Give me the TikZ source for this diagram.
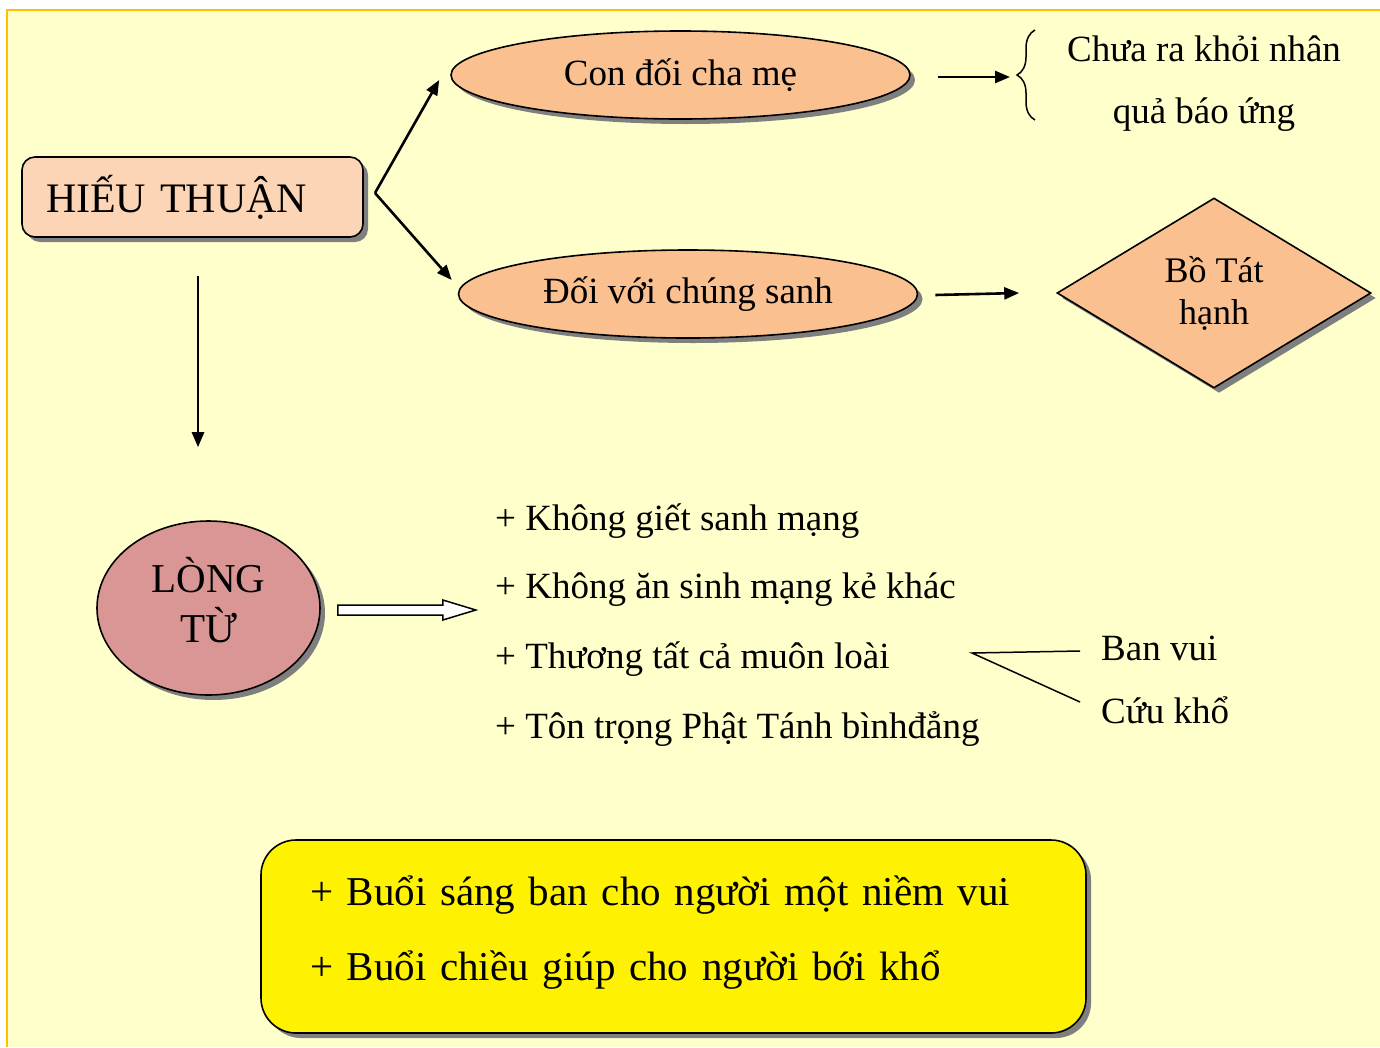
\documentclass[tikz,border=0pt]{standalone}
\usepackage{fontspec}
\setmainfont{Liberation Serif}
\usetikzlibrary{arrows.meta,positioning,calc,shapes.geometric,shadows,decorations.pathreplacing}

\definecolor{bgyellow}{HTML}{FFFFCC}
\definecolor{framegold}{HTML}{FFC000}
\definecolor{peachlight}{HTML}{FBD5B5}
\definecolor{peach}{HTML}{FAC090}
\definecolor{rosy}{HTML}{D99694}
\definecolor{shadowgray}{HTML}{7F7F7F}

\begin{document}
\begin{tikzpicture}[x=1pt,y=-1pt,>={Triangle[length=15pt,width=12pt]},
  shade/.style={drop shadow={shadow xshift=5pt,shadow yshift=-5pt,fill=shadowgray,opacity=1}},
  titlebox/.style={draw,line width=1.6pt,rounded corners=13pt,fill=peachlight,shade,text width=293pt,inner xsep=24pt,minimum height=80pt,align=left,font=\fontsize{42}{48}\selectfont},
  oval/.style={ellipse,draw,line width=1.6pt,fill=peach,shade,minimum width=459pt,minimum height=88pt,inner sep=0pt,font=\fontsize{37}{44}\selectfont},
  gem/.style={diamond,draw,line width=1.6pt,fill=peach,shade,minimum width=314pt,minimum height=190pt,inner sep=0pt,align=center,font=\fontsize{36}{42}\selectfont},
  heart/.style={ellipse,draw,line width=1.6pt,fill=rosy,shade,minimum width=223pt,minimum height=174pt,inner sep=0pt,align=center,text depth=17pt,font=\fontsize{41}{50}\selectfont},
  item/.style={anchor=base west,inner sep=0pt,font=\fontsize{37}{42}\selectfont},
  twig/.style={anchor=base west,inner sep=0pt,text height=26pt,text depth=8pt,font=\fontsize{37}{42}\selectfont},
  notebox/.style={draw,line width=1.6pt,rounded corners=35pt,fill=yellow,shade,text width=727pt,inner xsep=49pt,minimum height=193pt,text depth=92pt,align=left,font=\fontsize{41}{75}\selectfont},
  link/.style={->,line width=2.6pt}]
  \useasboundingbox (0,0) rectangle (1380,1047);
  % background and frame
  \fill[bgyellow] (7,10) rectangle (1380,1047);
  \draw[framegold,line width=2pt] (7,1047) -- (7,10) -- (1380,10);

  \node[titlebox] (ht) at (192.5,197) {HIẾU THUẬN};
  \node[oval] (c1) at (680.5,75) {Con đối cha mẹ};
  \node[oval] (c2) at (688,294) {Đối với chúng sanh};
  \node[align=center,inner sep=0pt,font=\fontsize{37}{62}\selectfont] (nq) at (1204,84) {Chưa ra khỏi nhân\\quả báo ứng};
  \node[gem] (bt) at (1214,293) {Bồ Tát\\hạnh};
  \node[heart] (lt) at (208.5,608) {LÒNG\\TỪ};

  \node[item] (k1) at (495,530) {+ Không giết sanh mạng};
  \node[item] (k2) at (495,598) {+ Không ăn sinh mạng kẻ khác};
  \node[item] (k3) at (495,668) {+ Thương tất cả muôn loài};
  \node[item] (k4) at (495,738) {+ Tôn trọng Phật Tánh bìnhđẳng};
  \node[twig] (bv) at (1101,660) {Ban vui};
  \node[twig] (ck) at (1101,723) {Cứu khổ};

  \node[notebox] (nb) at (673.5,936.5) {+ Buổi sáng ban cho người một niềm vui\\+ Buổi chiều giúp cho người bới khổ};

  % connectors
  \coordinate (fork) at (375,193);
  \draw[link] (fork) -- ([shift={(-11,5)}]c1.west);
  \draw[link] (fork) -- ([shift={(-6,-14)}]c2.west);
  \draw[link] ([shift={(5.5,38)}]ht.south) -- ([shift={(-10.5,-73)}]lt.north);

  \coordinate (bra) at (1035,30);
  \coordinate (brb) at (1035,120);
  \draw[line width=1.5pt,decorate,decoration={brace,amplitude=18pt,aspect=0.5}] (brb) -- (bra);
  \draw[link] ([shift={(27,2)}]c1.east) -- ($(bra)!0.5!(brb)+(-25,2)$);
  \draw[link] ([shift={(17,1)}]c2.east) -- ([xshift=-37]bt.west);

  \draw[line width=1.5pt,fill=white] ($(lt.east)+(17,-3)$) -- ++(105,0) -- ++(0,-5) -- ++(33,10)
    -- ++(-33,10) -- ++(0,-5) -- ++(-105,0) -- cycle;

  \coordinate (split) at (972,653);
  \draw[line width=1.5pt] ([xshift=-21]bv.west) -- (split) -- ([shift={(-21,-12)}]ck.west);
\end{tikzpicture}
\end{document}
